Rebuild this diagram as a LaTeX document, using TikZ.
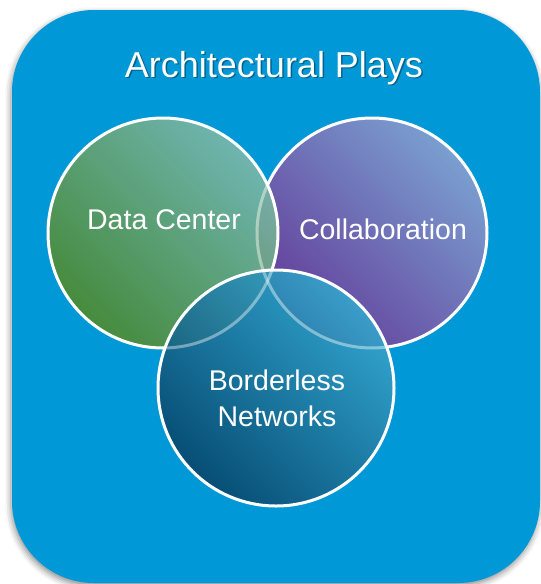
\documentclass[tikz,border=0pt]{standalone}
\usepackage{fontspec}
\setmainfont{Liberation Sans}
\usetikzlibrary{shadows.blur}
\definecolor{bgblue}{HTML}{0098D6}
\definecolor{dcA}{HTML}{4E8A2C}
\definecolor{dcB}{HTML}{3E9466}
\definecolor{dcC}{HTML}{7CB8AC}
\definecolor{coA}{HTML}{6E3494}
\definecolor{coB}{HTML}{6264B6}
\definecolor{coC}{HTML}{88A0D0}
\definecolor{bnA}{HTML}{08466A}
\definecolor{bnB}{HTML}{17809F}
\definecolor{bnC}{HTML}{36A6CE}
\tikzset{
  venn/.style={circle, draw=white, line width=3pt, fill opacity=0.9, inner sep=0pt},
  diag/.style={shading angle=135},
  lbl/.style={text=white, font=\fontsize{28.5}{35}\selectfont, align=center, anchor=base},
  fadeline/.style={draw=white, line width=3pt, opacity=0.35}
}
\begin{document}
\begin{tikzpicture}[x=1pt,y=-1pt]
\useasboundingbox (0,0) rectangle (541,584);
\path[fill=bgblue, rounded corners=82pt,
  blur shadow={shadow xshift=-1pt, shadow yshift=-3pt, shadow blur radius=6pt, shadow opacity=45}]
  (12,10) rectangle (540,583);
% title
\node[text=black, opacity=0.35, font=\fontsize{36}{40}\selectfont, anchor=base] (tsh) at (275.5,78.5) {Architectural Plays};
\node[text=white, font=\fontsize{36}{40}\selectfont, anchor=base] (title) at (274,77) {Architectural Plays};
% circles
\node[venn, minimum size=230pt, left color=coA, middle color=coB, right color=coC, diag] (co) at (372,233) {};
\node[venn, minimum size=230pt, left color=dcA, middle color=dcB, right color=dcC, diag] (dc) at (163,233) {};
\begin{scope}
  \clip (dc.center) circle (115pt);
  \draw[fadeline] (co.center) circle (115pt);
\end{scope}
\node[venn, minimum size=236pt, left color=bnA, middle color=bnB, right color=bnC, diag] (bn) at (276,388) {};
\begin{scope}
  \clip (bn.center) circle (118pt);
  \draw[fadeline] (co.center) circle (115pt);
  \draw[fadeline] (dc.center) circle (115pt);
\end{scope}
% labels
\node[lbl] (dct) at (164,229) {Data Center};
\node[lbl] (cot) at (383,239) {Collaboration};
\node[lbl] (bnt1) at (277,390) {Borderless};
\node[lbl] (bnt2) at (277,426) {Networks};
\end{tikzpicture}
\end{document}
